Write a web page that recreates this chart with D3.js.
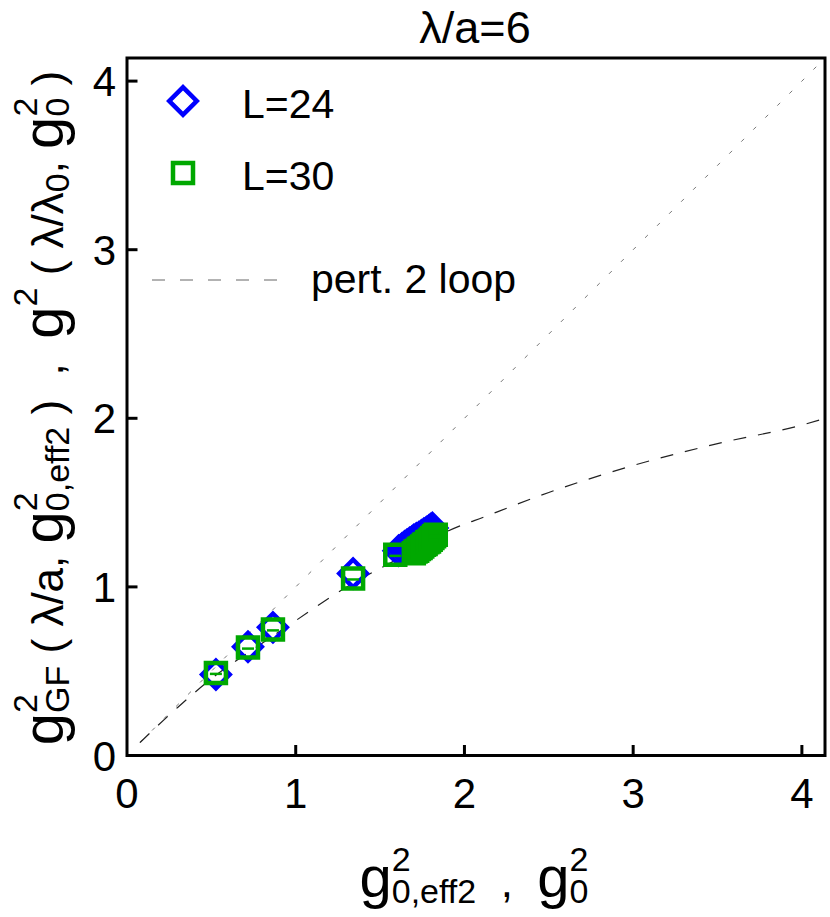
<!DOCTYPE html><meta charset="utf-8">
<title>g2 GF vs g0 eff2</title>
<style>
  body{margin:0;background:#fff}
  svg{display:block}
  text{font-family:"Liberation Sans",Arial,sans-serif;fill:#000;white-space:pre}
</style>
<script src="https://d3js.org/d3.v7.min.js"></script>
<body><script>
const W = 830, H = 917;

// tick values
const xTicks = [0, 1, 2, 3, 4];
const yTicks = [0, 1, 2, 3, 4];

// L=24 (diamonds)
const l24X = [0.527, 0.717, 0.865, 1.34, 1.61, 1.63, 1.645, 1.66, 1.675, 1.69, 1.70, 1.715, 1.73, 1.745, 1.76, 1.775, 1.79, 1.80, 1.81];
const l24Y = [0.480, 0.645, 0.760, 1.08, 1.215, 1.228, 1.24, 1.25, 1.26, 1.27, 1.278, 1.287, 1.295, 1.305, 1.315, 1.325, 1.335, 1.342, 1.35];
// L=30 (squares)
const l30X = [0.527, 0.717, 0.865, 1.34, 1.59, 1.70, 1.71, 1.72, 1.73, 1.74, 1.75, 1.76, 1.77, 1.78, 1.79, 1.80, 1.81, 1.82, 1.83];
const l30Y = [0.490, 0.640, 0.748, 1.05, 1.19, 1.20, 1.21, 1.215, 1.225, 1.23, 1.24, 1.25, 1.255, 1.265, 1.27, 1.28, 1.29, 1.30, 1.31];

// perturbative 2-loop curve
const pertX = [0.077, 0.3, 0.5, 0.77, 1.0, 1.32, 1.5, 1.68, 1.9, 2.13, 2.5, 3.0, 3.5, 4.0, 4.14];
const pertY = [0.077, 0.285, 0.455, 0.645, 0.80, 1.01, 1.11, 1.205, 1.33, 1.42, 1.56, 1.72, 1.85, 1.96, 2.0];

// y = x reference
const diagX = [0.077, 4.1];

const x = d3.scaleLinear().domain([0, 4.137]).range([127, 825]);
const y = d3.scaleLinear().domain([0, 4.137]).range([755.5, 58]);

const svg = d3.select("body").append("svg").attr("width", W).attr("height", H);

svg.append("defs").append("clipPath").attr("id", "clip")
  .append("rect").attr("x", 127).attr("y", 58).attr("width", 698).attr("height", 697.5);

/* ---- reference lines ---- */
const lines = svg.append("g").attr("clip-path", "url(#clip)");
lines.append("path")
  .attr("d", d3.line().x(d => x(d)).y(d => y(d))(diagX))
  .attr("fill", "none").attr("stroke", "#777").attr("stroke-width", 1)
  .attr("stroke-dasharray", "4 13");
lines.append("path")
  .attr("d", d3.line().curve(d3.curveMonotoneX).x((d, i) => x(d)).y((d, i) => y(pertY[i]))(pertX))
  .attr("fill", "none").attr("stroke", "#222").attr("stroke-width", 1.2)
  .attr("stroke-dasharray", "13 12");

/* ---- markers ---- */
const diamond = d3.symbol(d3.symbolSquare, 380)();
const square = d3.symbol(d3.symbolSquare, 400)();
const BLUE = "#0000ff", GREEN = "#00a800";

svg.append("g").selectAll("path").data(l24X).join("path")
  .attr("d", diamond)
  .attr("transform", (d, i) => `translate(${x(d)},${y(l24Y[i])}) rotate(45)`)
  .attr("fill", "none").attr("stroke", BLUE).attr("stroke-width", 4.5);

const sq = svg.append("g").selectAll("g").data(l30X).join("g")
  .attr("transform", (d, i) => `translate(${x(d)},${y(l30Y[i])})`);
sq.append("line").attr("x1", -6).attr("x2", 6).attr("y1", 1).attr("y2", 1)
  .attr("stroke", GREEN).attr("stroke-width", 2.5);
sq.append("path").attr("d", square)
  .attr("fill", "none").attr("stroke", GREEN).attr("stroke-width", 4.5);

/* ---- frame + ticks ---- */
svg.append("rect").attr("x", 127).attr("y", 58).attr("width", 698).attr("height", 697.5)
  .attr("fill", "none").attr("stroke", "#000").attr("stroke-width", 3);

svg.append("g").selectAll("line").data(xTicks.slice(1)).join("line")
  .attr("x1", d => x(d)).attr("x2", d => x(d)).attr("y1", 755.5).attr("y2", 745)
  .attr("stroke", "#000").attr("stroke-width", 3);
svg.append("g").selectAll("line").data(yTicks.slice(1)).join("line")
  .attr("y1", d => y(d)).attr("y2", d => y(d)).attr("x1", 127).attr("x2", 137.5)
  .attr("stroke", "#000").attr("stroke-width", 3);

svg.append("g").selectAll("text").data(xTicks).join("text")
  .attr("x", d => x(d)).attr("y", 808).attr("text-anchor", "middle")
  .attr("font-size", 42).text(d => d);
svg.append("g").selectAll("text").data(yTicks).join("text")
  .attr("x", 116).attr("y", d => y(d) + 15).attr("text-anchor", "end")
  .attr("font-size", 42).text(d => d);

/* ---- title ---- */
svg.append("text").attr("x", 475).attr("y", 43).attr("text-anchor", "middle")
  .attr("font-size", 45).text("λ/a=6");

/* ---- legend ---- */
svg.append("path").attr("d", diamond).attr("transform", "translate(183,101) rotate(45)")
  .attr("fill", "none").attr("stroke", BLUE).attr("stroke-width", 4.5);
svg.append("text").attr("x", 242).attr("y", 118).attr("font-size", 41).text("L=24");
svg.append("path").attr("d", square).attr("transform", "translate(183,173)")
  .attr("fill", "none").attr("stroke", GREEN).attr("stroke-width", 4.5);
svg.append("text").attr("x", 242).attr("y", 190).attr("font-size", 41).text("L=30");
svg.append("line").attr("x1", 152).attr("x2", 278).attr("y1", 280).attr("y2", 280)
  .attr("stroke", "#666").attr("stroke-width", 1).attr("stroke-dasharray", "13 15");
svg.append("text").attr("x", 311).attr("y", 293).attr("font-size", 41).text("pert. 2 loop");

/* ---- axis titles (g big, scripts small) ---- */
const G = 58, N = 44, S = 34;
function rich(g, parts) {
  let cx = 0;
  for (const p of parts) {
    if (p.t) {
      const t = g.append("text").attr("x", cx).attr("y", 0).attr("font-size", p.s || N).text(p.t);
      cx += t.node().getComputedTextLength();
    }
    let w = 0;
    if (p.sub) {
      const t = g.append("text").attr("x", cx).attr("y", 6).attr("font-size", S).text(p.sub);
      w = Math.max(w, t.node().getComputedTextLength());
    }
    if (p.sup) {
      const t = g.append("text").attr("x", cx).attr("y", -26).attr("font-size", S).text(p.sup);
      w = Math.max(w, t.node().getComputedTextLength());
    }
    cx += w;
  }
  g.selectAll("text").attr("x", function() { return +this.getAttribute("x") - cx / 2; });
}

rich(svg.append("g").attr("transform", "translate(474,897)"), [
  {t: "g", s: G, sub: "0,eff2", sup: "2"},
  {t: "  ,  "},
  {t: "g", s: G, sub: "0", sup: "2"}
]);

rich(svg.append("g").attr("transform", "translate(63,408) rotate(-90)"), [
  {t: "g", s: G, sub: "GF", sup: "2"},
  {t: " ( λ/a, "},
  {t: "g", s: G, sub: "0,eff2", sup: "2"},
  {t: " )  ,  "},
  {t: "g", s: G, sup: "2"},
  {t: " ( λ/λ", sub: "0"},
  {t: ", "},
  {t: "g", s: G, sub: "0", sup: "2"},
  {t: " )"}
]);
</script>
